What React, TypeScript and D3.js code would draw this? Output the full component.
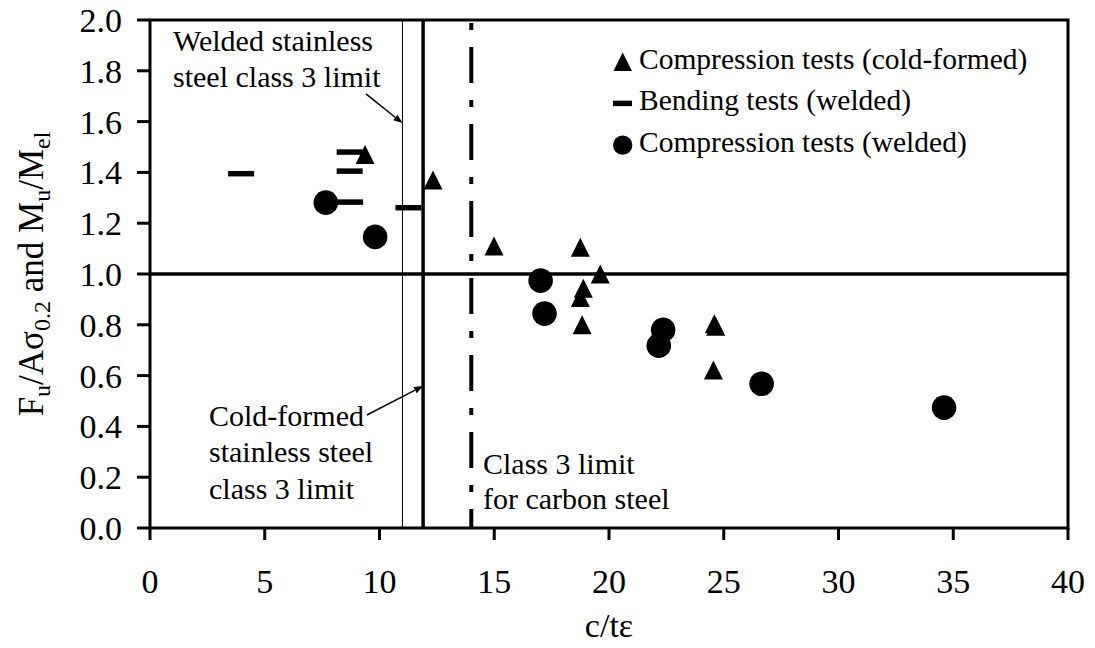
import React from "react";
import * as d3 from "d3";

// Slenderness c/tε against normalised resistance
const coldFormedCompression: [number, number][] = [
  [9.37, 1.47], [12.33, 1.37], [14.99, 1.11], [18.75, 1.105], [19.62, 1.0],
  [18.88, 0.944], [18.75, 0.907], [18.83, 0.8], [24.59, 0.804], [24.65, 0.794],
  [24.55, 0.622],
];
const weldedBending: [number, number][] = [
  [3.97, 1.395], [8.7, 1.48], [8.7, 1.405], [8.72, 1.283], [11.26, 1.261],
];
const weldedCompression: [number, number][] = [
  [7.66, 1.281], [9.81, 1.146], [17.02, 0.974], [17.19, 0.844],
  [22.36, 0.78], [22.17, 0.718], [26.65, 0.568], [34.6, 0.474],
];

const xTicks = [0, 5, 10, 15, 20, 25, 30, 35, 40];
const yTicks = [0, 0.2, 0.4, 0.6, 0.8, 1.0, 1.2, 1.4, 1.6, 1.8, 2.0];

const weldedLimit = 11.0;
const coldFormedLimit = 11.9;
const carbonLimit = 14.0;
const unity = 1.0;

const legendItems = [
  "Compression tests (cold-formed)",
  "Bending tests (welded)",
  "Compression tests (welded)",
];

const W = 1095;
const H = 648;
const FONT = "Liberation Serif, Times New Roman, Times, DejaVu Serif, serif";

const x = d3.scaleLinear().domain([0, 40]).range([150, 1068]);
const y = d3.scaleLinear().domain([0, 2]).range([528, 20]);

function tri(cx: number, cy: number, s: number) {
  const p = d3.path();
  p.moveTo(cx, cy - s / 2);
  p.lineTo(cx - s / 2, cy + s / 2);
  p.lineTo(cx + s / 2, cy + s / 2);
  p.closePath();
  return p.toString();
}

function Arrow({ x1, y1, x2, y2 }: { x1: number; y1: number; x2: number; y2: number }) {
  const a = Math.atan2(y2 - y1, x2 - x1);
  const len = 9;
  const wid = 3.5;
  const bx = x2 - len * Math.cos(a);
  const by = y2 - len * Math.sin(a);
  const px = -Math.sin(a) * wid;
  const py = Math.cos(a) * wid;
  return (
    <g>
      <line x1={x1} y1={y1} x2={bx} y2={by} stroke="#000" strokeWidth={1.5} />
      <path d={`M${x2},${y2}L${bx + px},${by + py}L${bx - px},${by - py}Z`} fill="#000" />
    </g>
  );
}

export default function App() {
  const [x0, x1] = x.range();
  const [y0, y1] = y.range();
  return (
    <svg
      width={W}
      height={H}
      style={{ display: "block", position: "absolute", left: 0, top: 0, fontFamily: FONT }}
    >
      <rect width={W} height={H} fill="#fff" />

      {/* plot frame */}
      <rect x={x0} y={y1} width={x1 - x0} height={y0 - y1} fill="none" stroke="#000" strokeWidth={3} />

      {/* reference lines */}
      <line x1={x(0)} x2={x(40)} y1={y(unity)} y2={y(unity)} stroke="#000" strokeWidth={3.5} />
      <line x1={x(weldedLimit)} x2={x(weldedLimit)} y1={y(0)} y2={y(2)} stroke="#000" strokeWidth={1} />
      <line x1={x(coldFormedLimit)} x2={x(coldFormedLimit)} y1={y(0)} y2={y(2)} stroke="#000" strokeWidth={3.5} />
      <line
        x1={x(carbonLimit)} x2={x(carbonLimit)} y1={y(2)} y2={y(0)}
        stroke="#000" strokeWidth={4} strokeDasharray="36,17,7,17" strokeDashoffset={50}
      />

      {/* axes ticks */}
      {xTicks.map((t) => (
        <g key={`x${t}`}>
          <line x1={x(t)} x2={x(t)} y1={y0} y2={y0 + 12} stroke="#000" strokeWidth={3} />
          <text x={x(t)} y={593} textAnchor="middle" fontSize={34}>{t}</text>
        </g>
      ))}
      {yTicks.map((t) => (
        <g key={`y${t}`}>
          <line x1={x0 - 13} x2={x0} y1={y(t)} y2={y(t)} stroke="#000" strokeWidth={3} />
          <text x={122} y={y(t) + 12} textAnchor="end" fontSize={34}>{t.toFixed(1)}</text>
        </g>
      ))}

      {/* axis titles */}
      <text x={(x0 + x1) / 2} y={637} textAnchor="middle" fontSize={34}>c/tε</text>
      <text transform={`translate(43,${(y0 + y1) / 2}) rotate(-90)`} textAnchor="middle" fontSize={35}>
        <tspan>F</tspan>
        <tspan fontSize={24} dy={7}>u</tspan>
        <tspan dy={-7}>/Aσ</tspan>
        <tspan fontSize={24} dy={7}>0.2</tspan>
        <tspan dy={-7}> and M</tspan>
        <tspan fontSize={24} dy={7}>u</tspan>
        <tspan dy={-7}>/M</tspan>
        <tspan fontSize={24} dy={7}>el</tspan>
      </text>

      {/* annotations */}
      <g fontSize={30}>
        <text x={173} y={51}>Welded stainless</text>
        <text x={173} y={87}>steel class 3 limit</text>
        <text x={209} y={426}>Cold-formed</text>
        <text x={209} y={462}>stainless steel</text>
        <text x={209} y={499}>class 3 limit</text>
        <text x={483} y={474}>Class 3 limit</text>
        <text x={483} y={509}>for carbon steel</text>
      </g>
      <Arrow x1={x(9.41)} y1={y(1.709)} x2={x(weldedLimit)} y2={y(1.594)} />
      <Arrow x1={x(9.45)} y1={y(0.445)} x2={x(coldFormedLimit)} y2={y(0.559)} />

      {/* data markers */}
      {weldedBending.map(([a, b], i) => (
        <line key={`b${i}`} x1={x(a) - 13} x2={x(a) + 13} y1={y(b)} y2={y(b)} stroke="#000" strokeWidth={5.5} />
      ))}
      {weldedCompression.map(([a, b], i) => (
        <circle key={`c${i}`} cx={x(a)} cy={y(b)} r={12.3} fill="#000" />
      ))}
      {coldFormedCompression.map(([a, b], i) => (
        <path key={`t${i}`} d={tri(x(a), y(b), 19)} fill="#000" />
      ))}

      {/* legend */}
      <g fontSize={29.5}>
        {legendItems.map((label, i) => {
          const cy = 61.7 + i * 41.7;
          return (
            <g key={label}>
              {i === 0 && <path d={tri(622.7, cy, 18.5)} fill="#000" />}
              {i === 1 && <line x1={613} x2={632} y1={cy} y2={cy} stroke="#000" strokeWidth={5.5} />}
              {i === 2 && <circle cx={622.7} cy={cy} r={9.7} fill="#000" />}
              <text x={639} y={cy + 7}>{label}</text>
            </g>
          );
        })}
      </g>
    </svg>
  );
}
